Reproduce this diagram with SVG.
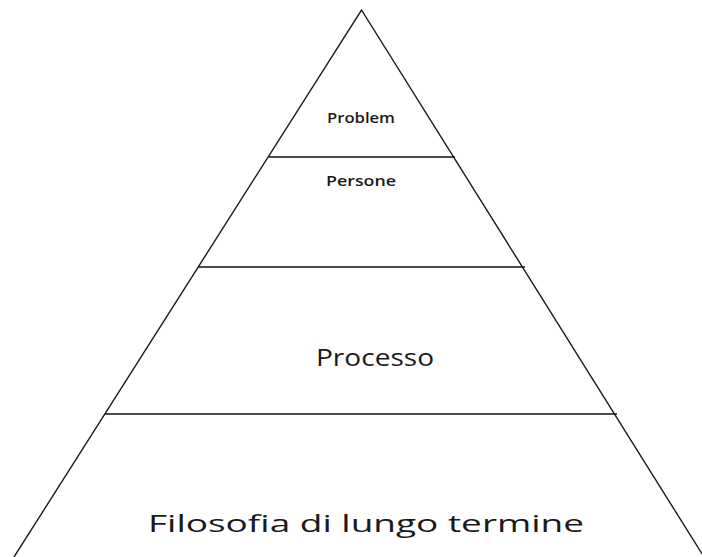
<svg xmlns="http://www.w3.org/2000/svg" width="702" height="557" viewBox="0 0 702 557">
  <style>
    .edge { stroke: #1a1a1a; stroke-width: 1.4; fill: none; }
    .tier { stroke: #111; stroke-width: 1.6; }
    .small { font-family: "Open Sans", "Liberation Sans", sans-serif; font-size: 14px; font-weight: 600; fill: #1a1a1a; text-anchor: middle; }
    .big { font-family: "Open Sans", "Liberation Sans", sans-serif; font-size: 24px; fill: #1a1a1a; text-anchor: middle; }
  </style>
  <rect width="702" height="557" fill="#ffffff"/>
  <!-- pyramid outline and tier dividers -->
  <g id="connectors">
    <polyline class="edge" points="14,557 361.5,10 704,557"/>
    <line class="tier" x1="269" y1="157" x2="455" y2="157"/>
    <line class="tier" x1="198" y1="267" x2="525" y2="267"/>
    <line class="tier" x1="105" y1="414" x2="617" y2="414"/>
  </g>
  <g id="problem">
    <text class="small" x="361" y="123" textLength="68" lengthAdjust="spacingAndGlyphs">Problem</text>
  </g>
  <g id="persone">
    <text class="small" x="361" y="186" textLength="70" lengthAdjust="spacingAndGlyphs">Persone</text>
  </g>
  <g id="processo">
    <text class="big" x="375" y="366" textLength="118" lengthAdjust="spacingAndGlyphs">Processo</text>
  </g>
  <g id="filosofia">
    <text class="big" x="366" y="532" textLength="436" lengthAdjust="spacingAndGlyphs">Filosofia di lungo termine</text>
  </g>
</svg>
